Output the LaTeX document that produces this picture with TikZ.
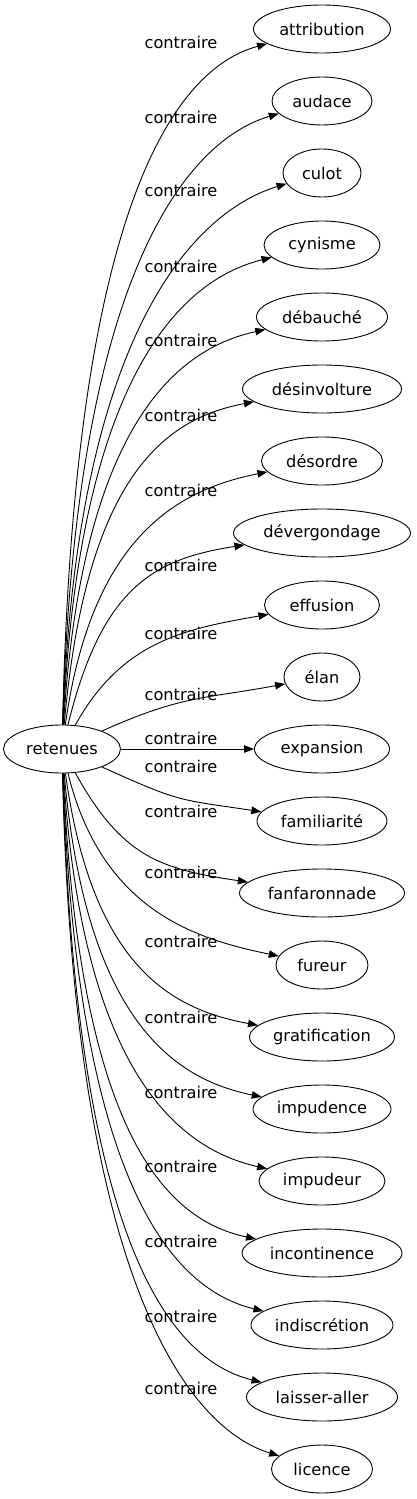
\documentclass[tikz,border=0pt]{standalone}
\usepackage{fontspec}
\setmainfont{DejaVu Sans}
\usetikzlibrary{arrows.meta,shapes.geometric}
\tikzset{
  word/.style={draw,ellipse,inner sep=0pt,minimum height=48,line width=.9pt,font=\fontsize{16.2}{19}\selectfont},
  rel/.style={font=\fontsize{16.2}{19}\selectfont,inner sep=0pt},
  link/.style={-{Triangle[length=10pt,width=7.5pt]},line width=.9pt}
}
\begin{document}
\begin{tikzpicture}[x=1pt,y=-1pt]
\useasboundingbox (0,0) rectangle (416,1499);
\node[word,minimum width=117] (ret) at (62,749) {retenues};
\foreach \i/\w/\wid/\ly in {1/attribution/137/42,2/audace/100/117,3/culot/78/190,
  4/cynisme/116/266,5/débauché/131/340,6/désinvolture/159/415,7/désordre/121/490,
  8/dévergondage/177/565,9/effusion/115/633,10/élan/76/694,11/expansion/135/738,
  12/familiarité/130/766,13/fanfaronnade/165/811,14/fureur/92/872,
  15/gratification/145/941,16/impudence/138/1017,17/impudeur/126/1092,
  18/incontinence/160/1166,19/indiscrétion/142/1241,20/laisser-aller/151/1316,
  21/licence/101/1388}{
  \pgfmathsetmacro\yt{29+72*(\i-1)}
  \node[word,minimum width=\wid] (c\i) at (322,\yt) {\w};
  \node[rel] (l\i) at (181,\ly) {contraire};
  \ifnum\i=11
    \draw[link] (ret) -- (c\i);
  \else
    \pgfmathsetmacro\n{abs(\i-11)}
    \pgfmathsetmacro\s{sign(\i-11)}
    \pgfmathsetmacro\ax{62+120/\n}
    \pgfmathsetmacro\ay{749+0.75*(\yt-749)}
    \pgfmathsetmacro\bx{322-\wid/2-80}
    \pgfmathsetmacro\by{\yt-\s*(20+2*\n)}
    \draw[link] (ret) .. controls (\ax,\ay) and (\bx,\by) .. (c\i);
  \fi
}
\end{tikzpicture}
\end{document}
